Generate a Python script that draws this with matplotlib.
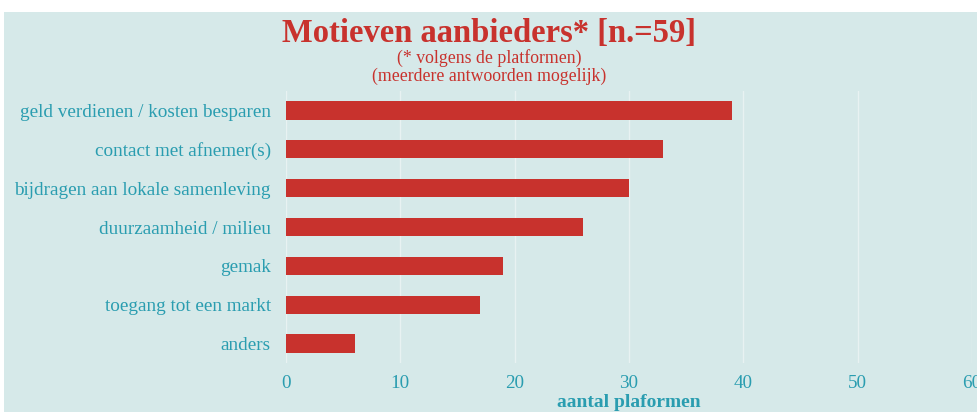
import matplotlib
matplotlib.use("Agg")
import matplotlib.pyplot as plt
import matplotlib.patches as patches

categories = [
    "geld verdienen / kosten besparen",
    "contact met afnemer(s)",
    "bijdragen aan lokale samenleving",
    "duurzaamheid / milieu",
    "gemak",
    "toegang tot een markt",
    "anders",
]
counts = [39, 33, 30, 26, 19, 17, 6]
xticks = [0, 10, 20, 30, 40, 50, 60]

BG = "#d6e9e9"
RED = "#c8322d"
TEAL = "#2a9db0"
FONT = ["Liberation Serif", "DejaVu Serif"]

plt.rcParams["font.family"] = FONT

fig = plt.figure(figsize=(9.78, 4.12), dpi=100)
fig.patch.set_facecolor("white")
fig.patches.append(
    patches.Rectangle((4 / 978, 0), 1, 400 / 412, transform=fig.transFigure,
                      facecolor=BG, edgecolor="none", zorder=-10)
)

ax = fig.add_axes([286 / 978, 1 - 363 / 412, (972 - 286) / 978, (363 - 91) / 412])
ax.set_facecolor(BG)
ax.patch.set_alpha(0)

y = range(len(categories))
ax.barh(y, counts, height=0.47, color=RED, zorder=3)

ax.set_xlim(0, 60)
ax.set_ylim(6.5, -0.5)
ax.set_xticks(xticks)
ax.set_yticks(list(y))
ax.set_yticklabels(categories)
ax.tick_params(axis="both", length=0, colors=TEAL, labelsize=13.8)
ax.tick_params(axis="x", pad=9)
ax.tick_params(axis="y", pad=11)
ax.grid(axis="x", color="white", linewidth=1, alpha=0.45, zorder=0)
for s in ax.spines.values():
    s.set_visible(False)

ax.set_xlabel("aantal plaformen", color=TEAL, fontsize=14, fontweight="bold", labelpad=1)

fig.text(0.5, 1 - 33 / 412, "Motieven aanbieders* [n.=59]", ha="center", va="center",
         color=RED, fontsize=23.5, fontweight="bold")
fig.text(0.5, 1 - 58 / 412, "(* volgens de platformen)", ha="center", va="center",
         color=RED, fontsize=12.8)
fig.text(0.5, 1 - 76 / 412, "(meerdere antwoorden mogelijk)", ha="center", va="center",
         color=RED, fontsize=12.8)

fig.savefig("out.png", dpi=100)
